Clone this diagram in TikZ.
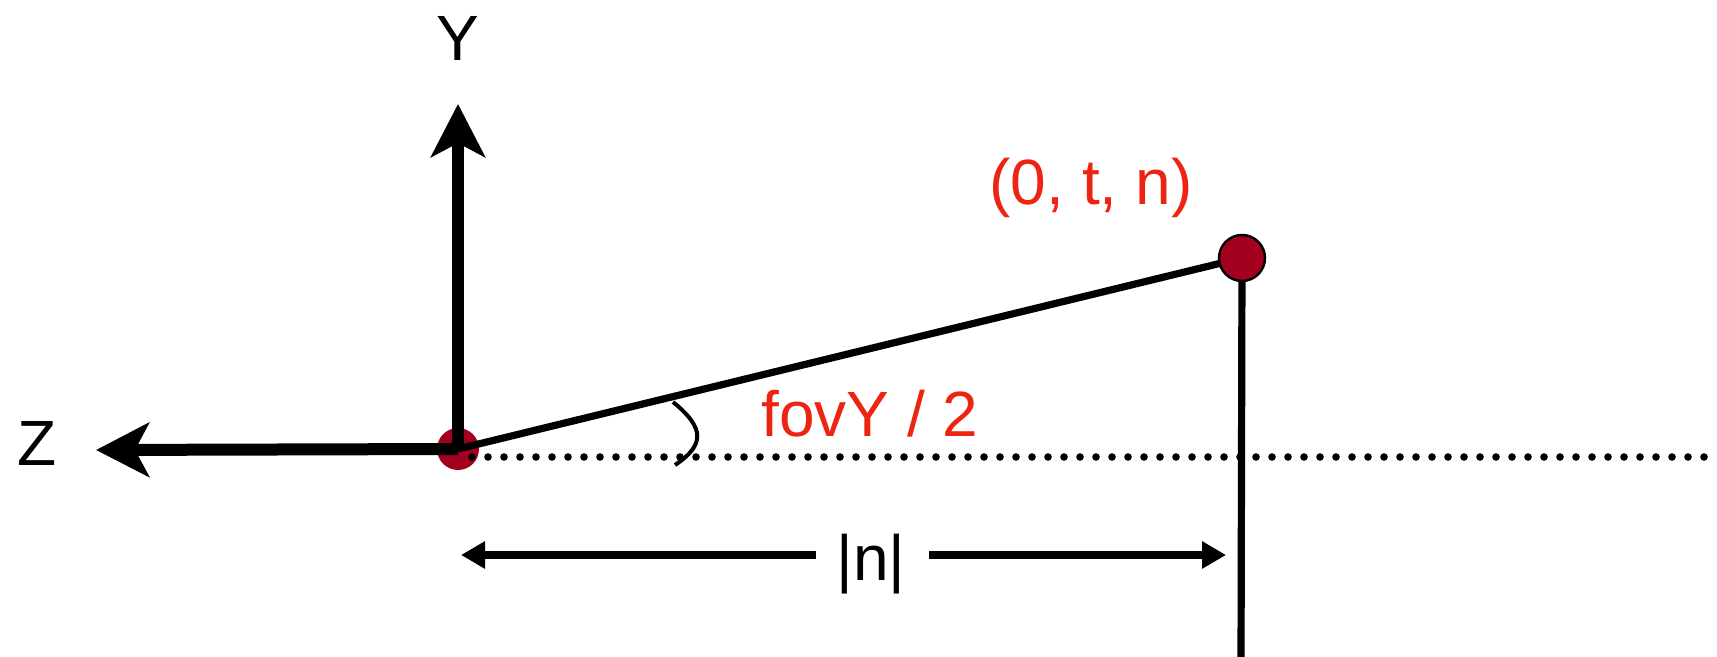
\documentclass[tikz,border=0pt]{standalone}
\usepackage{fontspec}
\setmainfont{Liberation Sans}
\usetikzlibrary{arrows.meta}
\definecolor{dotred}{RGB}{163,0,32}
\definecolor{labred}{RGB}{238,36,18}
\begin{document}
\begin{tikzpicture}[x=0.5pt,y=-0.5pt,
  axisline/.style={line width=6pt,-{Stealth[length=26.5pt,width=27pt,inset=7pt]}},
  rayline/.style={line width=3.6pt},
  measline/.style={line width=3.6pt,-{Triangle[length=12pt,width=13pt]}},
  dotline/.style={line width=3.8pt,line cap=round,dash pattern=on 0pt off 8pt},
  arcline/.style={line width=2pt},
  lab/.style={inner sep=0pt,font=\fontsize{32}{38}\selectfont},
  redlab/.style={lab,text=labred},
  origdot/.style={circle,fill=dotred,minimum size=21pt,inner sep=0pt},
  pdot/.style={circle,fill=dotred,draw=black,line width=1.2pt,minimum size=23pt,inner sep=0pt}]
\useasboundingbox (0,0) rectangle (1717,657);
% coordinates
\coordinate (ytip) at (458,104);
\coordinate (ztip) at (96,450);
\coordinate (d0) at (472,457);
\coordinate (d1) at (1717,457);
\coordinate (vb) at (1241,660);
\coordinate (a1) at (673,402);
\coordinate (a3) at (675,465);
\coordinate (la) at (816,555);
\coordinate (lt) at (461,555);
\coordinate (ra) at (929,555);
\coordinate (rt) at (1226,555);
% origin dot
\node[origdot] (O) at (458,449) {};
% dotted axis
\draw[dotline] (d0) -- (d1);
% axes
\draw[axisline] (O.center) -- (ztip);
\draw[axisline] (O.center) -- (ytip);
% point
\coordinate (Pc) at (1242,258);
\draw[rayline] (O.center) -- (Pc);
\draw[rayline] (Pc) -- (vb);
\node[pdot] (P) at (Pc) {};
% angle arc
\draw[arcline] (a1) .. controls (705,428) and (705,445) .. (a3);
% measure arrows
\draw[measline] (la) -- (lt);
\draw[measline] (ra) -- (rt);
% labels
\node[lab] (yl) at (458,38) {Y};
\node[lab] (zl) at (37,443) {Z};
\node[lab] (nl) at (871,564) {|n|};
\node[redlab] (fov) at (870,414) {fovY / 2};
\node[redlab] (pt) at (1091,188) {(0, t, n)};
\end{tikzpicture}
\end{document}
